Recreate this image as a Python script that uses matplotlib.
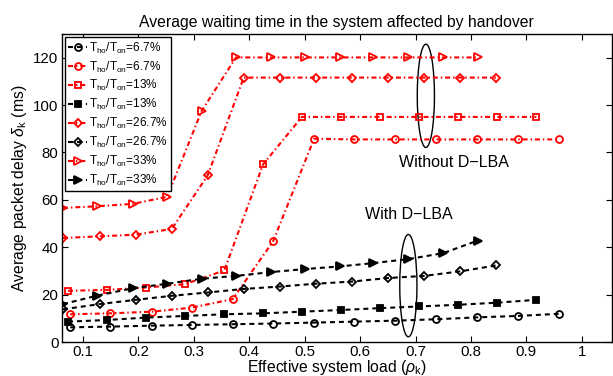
import matplotlib
matplotlib.use("Agg")
import matplotlib.pyplot as plt
from matplotlib.patches import Ellipse

plt.rcParams['font.family'] = ['Liberation Sans', 'DejaVu Sans']
plt.rcParams['mathtext.fontset'] = 'custom'
plt.rcParams['mathtext.rm'] = 'Liberation Sans'
plt.rcParams['mathtext.it'] = 'Liberation Sans:italic'
plt.rcParams['mathtext.sf'] = 'Liberation Sans'

# ---- data ----
x_c = [0.077, 0.149, 0.224, 0.296, 0.370, 0.443, 0.517, 0.589, 0.663, 0.737, 0.811, 0.884, 0.958]
y_c_with = [6.2, 6.5, 6.9, 7.2, 7.5, 7.8, 8.2, 8.6, 9.0, 9.6, 10.4, 11.0, 11.9]
y_c_without = [11.7, 12.1, 12.8, 14.5, 18.1, 42.5, 85.8, 85.5, 85.5, 85.5, 85.5, 85.5, 85.5]

x_s = [0.073, 0.144, 0.213, 0.284, 0.355, 0.425, 0.495, 0.565, 0.636, 0.706, 0.776, 0.847, 0.918]
y_s_with = [8.6, 9.3, 10.3, 11.0, 11.7, 12.1, 12.8, 13.5, 14.3, 15.0, 15.7, 16.6, 17.8]
y_s_without = [21.6, 22.0, 23.0, 24.4, 30.2, 75.0, 95.0, 95.0, 95.0, 95.0, 95.0, 95.0, 95.0]

x_d = [0.064, 0.130, 0.195, 0.260, 0.325, 0.390, 0.455, 0.520, 0.585, 0.650, 0.715, 0.780, 0.845]
y_d_with = [13.8, 16.0, 17.8, 19.5, 20.9, 22.4, 23.4, 24.6, 25.5, 27.0, 27.9, 29.8, 32.3]
y_d_without = [43.9, 44.6, 45.3, 47.7, 70.3, 111.6, 111.6, 111.6, 111.6, 111.6, 111.6, 111.6, 111.6]

x_t = [0.064, 0.126, 0.190, 0.252, 0.314, 0.376, 0.439, 0.501, 0.563, 0.624, 0.687, 0.750, 0.812]
y_t_with = [16.0, 19.6, 22.7, 24.6, 26.7, 27.9, 29.5, 30.8, 31.9, 33.3, 35.0, 37.5, 42.8]
y_t_without = [56.6, 57.3, 58.3, 61.3, 97.5, 120.1, 120.1, 120.1, 120.1, 120.1, 120.1, 120.1, 120.1]

ratios = ['6.7%', '13%', '26.7%', '33%']

def lab(r):
    return r'T$_{\mathrm{ho}}$/T$_{\mathrm{on}}$=' + r

fig = plt.figure(figsize=(6.13, 3.76), dpi=100)
ax = fig.add_axes([0.101, 0.0904, 0.897, 0.8192])

lw = 1.5
ms = 5
dash_blk = (0, (2.4, 1.9))
dash_red = (0, (2.4, 1.4, 0.7, 1.4))
blk = dict(color='black', linestyle=dash_blk, linewidth=lw, markersize=ms, markerfacecolor='none', markeredgewidth=1.3)
red = dict(color='red', linestyle=dash_red, linewidth=lw, markersize=ms, markerfacecolor='none', markeredgewidth=1.3)

ax.plot(x_c, y_c_with, marker='o', label=lab(ratios[0]), **blk)
ax.plot(x_c, y_c_without, marker='o', label=lab(ratios[0]), **red)
ax.plot(x_s, y_s_without, marker='s', label=lab(ratios[1]), **{**red, 'markersize': 4.5})
ax.plot(x_s, y_s_with, marker='s', label=lab(ratios[1]), **{**blk, 'markerfacecolor': 'black', 'markersize': 4})
ax.plot(x_d, y_d_without, marker='D', label=lab(ratios[2]), **{**red, 'markersize': 4.5})
ax.plot(x_d, y_d_with, marker='D', label=lab(ratios[2]), **{**blk, 'markersize': 4.5})
ax.plot(x_t, y_t_without, marker='>', label=lab(ratios[3]), **{**red, 'markersize': 6})
ax.plot(x_t, y_t_with, marker='>', label=lab(ratios[3]), **{**blk, 'markerfacecolor': 'black', 'markersize': 6})

ax.add_patch(Ellipse((0.7186, 103.9), 0.031, 43.6, fill=False, edgecolor='black', linewidth=1.0))
ax.add_patch(Ellipse((0.687, 23.8), 0.031, 43.2, fill=False, edgecolor='black', linewidth=1.0))
ax.text(0.671, 75.7, 'Without D\u2212LBA', fontsize=11.5, va='center', ha='left')
ax.text(0.609, 53.8, 'With D\u2212LBA', fontsize=11.5, va='center', ha='left')

ax.set_xlim(0.062, 1.054)
ax.set_ylim(0, 130)
ax.set_xticks([0.1, 0.2, 0.3, 0.4, 0.5, 0.6, 0.7, 0.8, 0.9, 1.0])
ax.set_xticklabels(['0.1', '0.2', '0.3', '0.4', '0.5', '0.6', '0.7', '0.8', '0.9', '1'])
ax.set_yticks([0, 20, 40, 60, 80, 100, 120])
ax.tick_params(direction='in', length=4, width=0.8, top=True, right=True, labelsize=10.8, pad=2.5, colors='black')
for s in ax.spines.values():
    s.set_linewidth(1.0)

ax.set_xlabel(r'Effective system load ($\rho_{\mathrm{k}}$)', fontsize=11.3, labelpad=-1)
ax.set_ylabel(r'Average packet delay $\delta_{\mathrm{k}}$ (ms)', fontsize=11.3, labelpad=3)
ax.set_title('Average waiting time in the system affected by handover', fontsize=11.3, pad=5)

leg = ax.legend(loc='upper left', bbox_to_anchor=(0.005, 0.99), borderaxespad=0, fontsize=8.5,
                frameon=True, fancybox=False, edgecolor='black', framealpha=1,
                handlelength=1.6, handletextpad=0.15, labelspacing=0.32, borderpad=0.3)
leg.get_frame().set_linewidth(1.0)

fig.savefig('out.png', dpi=100)
